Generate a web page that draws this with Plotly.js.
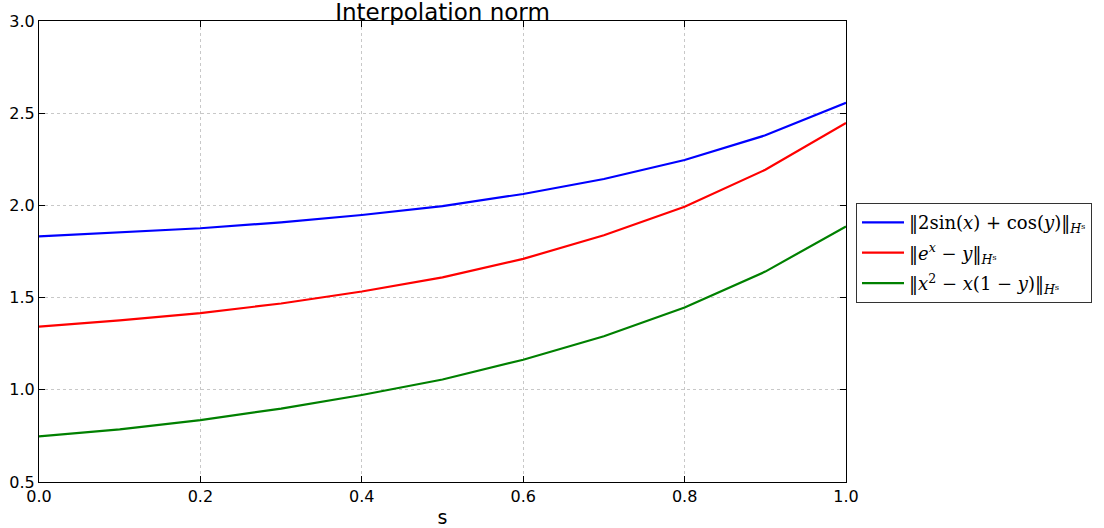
<!DOCTYPE html>
<html>
<head>
<meta charset="utf-8">
<script src="https://cdn.plot.ly/plotly-3.0.1.min.js"></script>
<style>html,body{margin:0;padding:0;background:#fff;}#chart{width:1104px;height:528px;}</style>
</head>
<body>
<div id="chart"></div>
<script>
const s = [0.0, 0.1, 0.2, 0.3, 0.4, 0.5, 0.6, 0.7, 0.8, 0.9, 1.0];
const normSinCos = [1.832, 1.852, 1.876, 1.908, 1.948, 1.996, 2.062, 2.143, 2.246, 2.38, 2.556];
const normExp = [1.343, 1.376, 1.416, 1.468, 1.533, 1.61, 1.71, 1.838, 1.993, 2.193, 2.447];
const normPoly = [0.747, 0.785, 0.836, 0.898, 0.972, 1.056, 1.163, 1.29, 1.446, 1.641, 1.886];
const seriesNames = [
  "‖2sin(<i>x</i>) + cos(<i>y</i>)‖<sub><i>H</i>ˢ</sub>",
  "‖<i>e</i><sup><i>x</i></sup> − <i>y</i>‖<sub><i>H</i>ˢ</sub>",
  "‖<i>x</i><sup>2</sup> − <i>x</i>(1 − <i>y</i>)‖<sub><i>H</i>ˢ</sub>"
];
const colors = ["#0000ff", "#ff0000", "#008000"];
const yTicks = [0.5, 1.0, 1.5, 2.0, 2.5, 3.0];
const xTicks = [0.0, 0.2, 0.4, 0.6, 0.8, 1.0];

const data = [normSinCos, normExp, normPoly].map((v, i) => ({
  x: s, y: v, type: "scatter", mode: "lines", name: seriesNames[i],
  legendgroup: "g" + i,
  line: {color: colors[i], width: 2.2}
}));

const axisCommon = {
  showline: true, mirror: "ticks", linecolor: "#000", linewidth: 1,
  ticks: "inside", ticklen: 6, tickcolor: "#000",
  showgrid: true, gridcolor: "#c8c8c8", griddash: "dot", gridwidth: 1,
  zeroline: false, tickfont: {family: "DejaVu Sans", size: 16, color: "#000"}
};

const layout = {
  width: 1104, height: 528,
  margin: {l: 39, r: 258, t: 21, b: 46},
  paper_bgcolor: "#fff", plot_bgcolor: "#fff",
  title: {text: "Interpolation norm", font: {family: "DejaVu Sans", size: 23, color: "#000"},
          x: 0.5, xref: "paper", xanchor: "center", y: 0.977, yref: "container", yanchor: "middle"},
  xaxis: Object.assign({}, axisCommon, {range: [0, 1], tickvals: xTicks, ticktext: xTicks.map(v => v.toFixed(1)),
    title: {text: "s", font: {family: "DejaVu Sans", size: 19, color: "#000"}, standoff: 6}}),
  yaxis: Object.assign({}, axisCommon, {range: [0.5, 3.0], tickvals: yTicks, ticktext: yTicks.map(v => v.toFixed(1))}),
  showlegend: true,
  legend: {x: 1.0124, xanchor: "left", y: 0.605, yanchor: "top", bgcolor: "#fff",
           bordercolor: "#333", borderwidth: 1, itemwidth: 42, traceorder: "grouped",
           font: {family: "DejaVu Serif", size: 18, color: "#000"}, tracegroupgap: 4}
};

Plotly.newPlot("chart", data, layout, {displayModeBar: false, staticPlot: true});
</script>
</body>
</html>
